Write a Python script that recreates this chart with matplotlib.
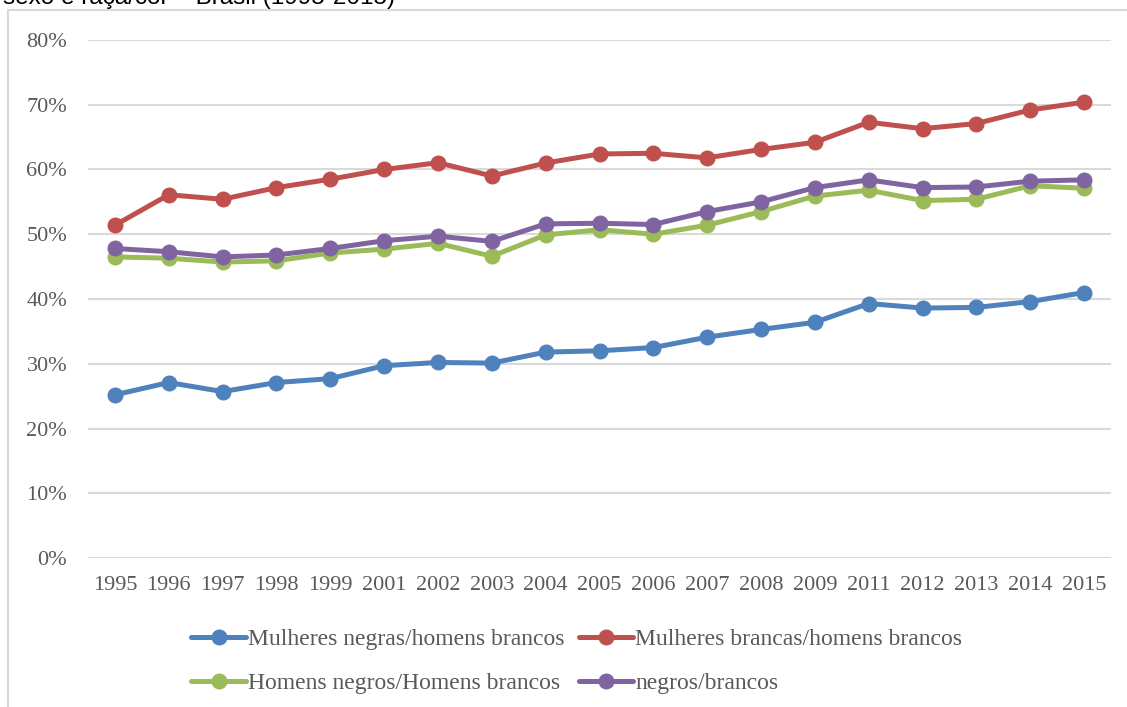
import matplotlib
matplotlib.use("Agg")
import matplotlib.pyplot as plt
from matplotlib.patches import Rectangle
from matplotlib.ticker import FuncFormatter

# Data (% ratio of average income)
years = ["1995", "1996", "1997", "1998", "1999", "2001", "2002", "2003", "2004", "2005",
         "2006", "2007", "2008", "2009", "2011", "2012", "2013", "2014", "2015"]
mulheres_negras = [25.2, 27.1, 25.7, 27.1, 27.7, 29.7, 30.2, 30.1, 31.8, 32.0,
                   32.5, 34.1, 35.3, 36.4, 39.3, 38.6, 38.7, 39.6, 41.0]
mulheres_brancas = [51.4, 56.1, 55.4, 57.2, 58.5, 60.0, 61.05, 59.0, 61.0, 62.4,
                    62.5, 61.8, 63.1, 64.2, 67.3, 66.3, 67.1, 69.2, 70.4]
homens_negros = [46.5, 46.3, 45.7, 45.9, 47.1, 47.7, 48.6, 46.6, 49.9, 50.7,
                 50.0, 51.4, 53.5, 55.9, 56.8, 55.2, 55.4, 57.5, 57.1]
negros = [47.8, 47.3, 46.5, 46.8, 47.8, 49.0, 49.7, 48.9, 51.6, 51.7,
          51.5, 53.5, 55.0, 57.2, 58.4, 57.2, 57.3, 58.2, 58.4]

series = [
    ("Mulheres negras/homens brancos", mulheres_negras, "#4f81bd"),
    ("Mulheres brancas/homens brancos", mulheres_brancas, "#c0504d"),
    ("Homens negros/Homens brancos", homens_negros, "#9bbb59"),
    ("negros/brancos", negros, "#8064a2"),
]

plt.rcParams["font.family"] = ["Liberation Serif", "DejaVu Serif"]
TXT = "#595959"
GRID = "#d9d9d9"

fig = plt.figure(figsize=(11.27, 7.07), dpi=100)
ax = fig.add_axes([88 / 1127, 1 - 558 / 707, 1023 / 1127, 518 / 707])

x = list(range(len(years)))
lines = {}
for label, vals, color in series:
    ln, = ax.plot(x, vals, color=color, linewidth=3.6, marker="o", markersize=10.5,
                  label=label, solid_capstyle="round", solid_joinstyle="round")
    lines[label] = ln

ax.set_xlim(-0.5, len(years) - 0.5)
ax.set_ylim(0, 80)
ax.set_yticks(range(0, 81, 10))
ax.yaxis.set_major_formatter(FuncFormatter(lambda v, p: f"{v:.0f}%"))
ax.set_xticks(x)
ax.set_xticklabels(years)
ax.tick_params(axis="y", length=0, pad=15, labelsize=16, labelcolor=TXT)
ax.tick_params(axis="x", length=0, pad=13, labelsize=16, labelcolor=TXT)
ax.grid(axis="y", color=GRID, linewidth=1.5)
ax.set_axisbelow(True)
for s in ax.spines.values():
    s.set_visible(False)

# legend: row 1 blue/red, row 2 green/purple (matplotlib fills by column)
order = [series[0][0], series[2][0], series[1][0], series[3][0]]
fig.legend([lines[k] for k in order], order, loc="upper left",
           bbox_to_anchor=(182 / 1127, 1 - 619 / 707), ncol=2,
           frameon=False, fontsize=17, handlelength=2.3, handletextpad=0.1,
           columnspacing=0.6, labelspacing=0.95, labelcolor=TXT, borderaxespad=0)

# chart frame (partially cut off in the original)
fig.patches.append(Rectangle((8 / 1127, -0.2), 1.2, 1.2 - 10 / 707, transform=fig.transFigure,
                             fill=False, edgecolor=GRID, linewidth=1.5, clip_on=False))

# cropped title from the source document
fig.text(3 / 1127, 1 - 4 / 707, "sexo e raça/cor – Brasil (1995-2015)", family="Liberation Sans",
         fontsize=17.5, color="black", va="baseline", ha="left")

fig.savefig("out.png", dpi=100)
